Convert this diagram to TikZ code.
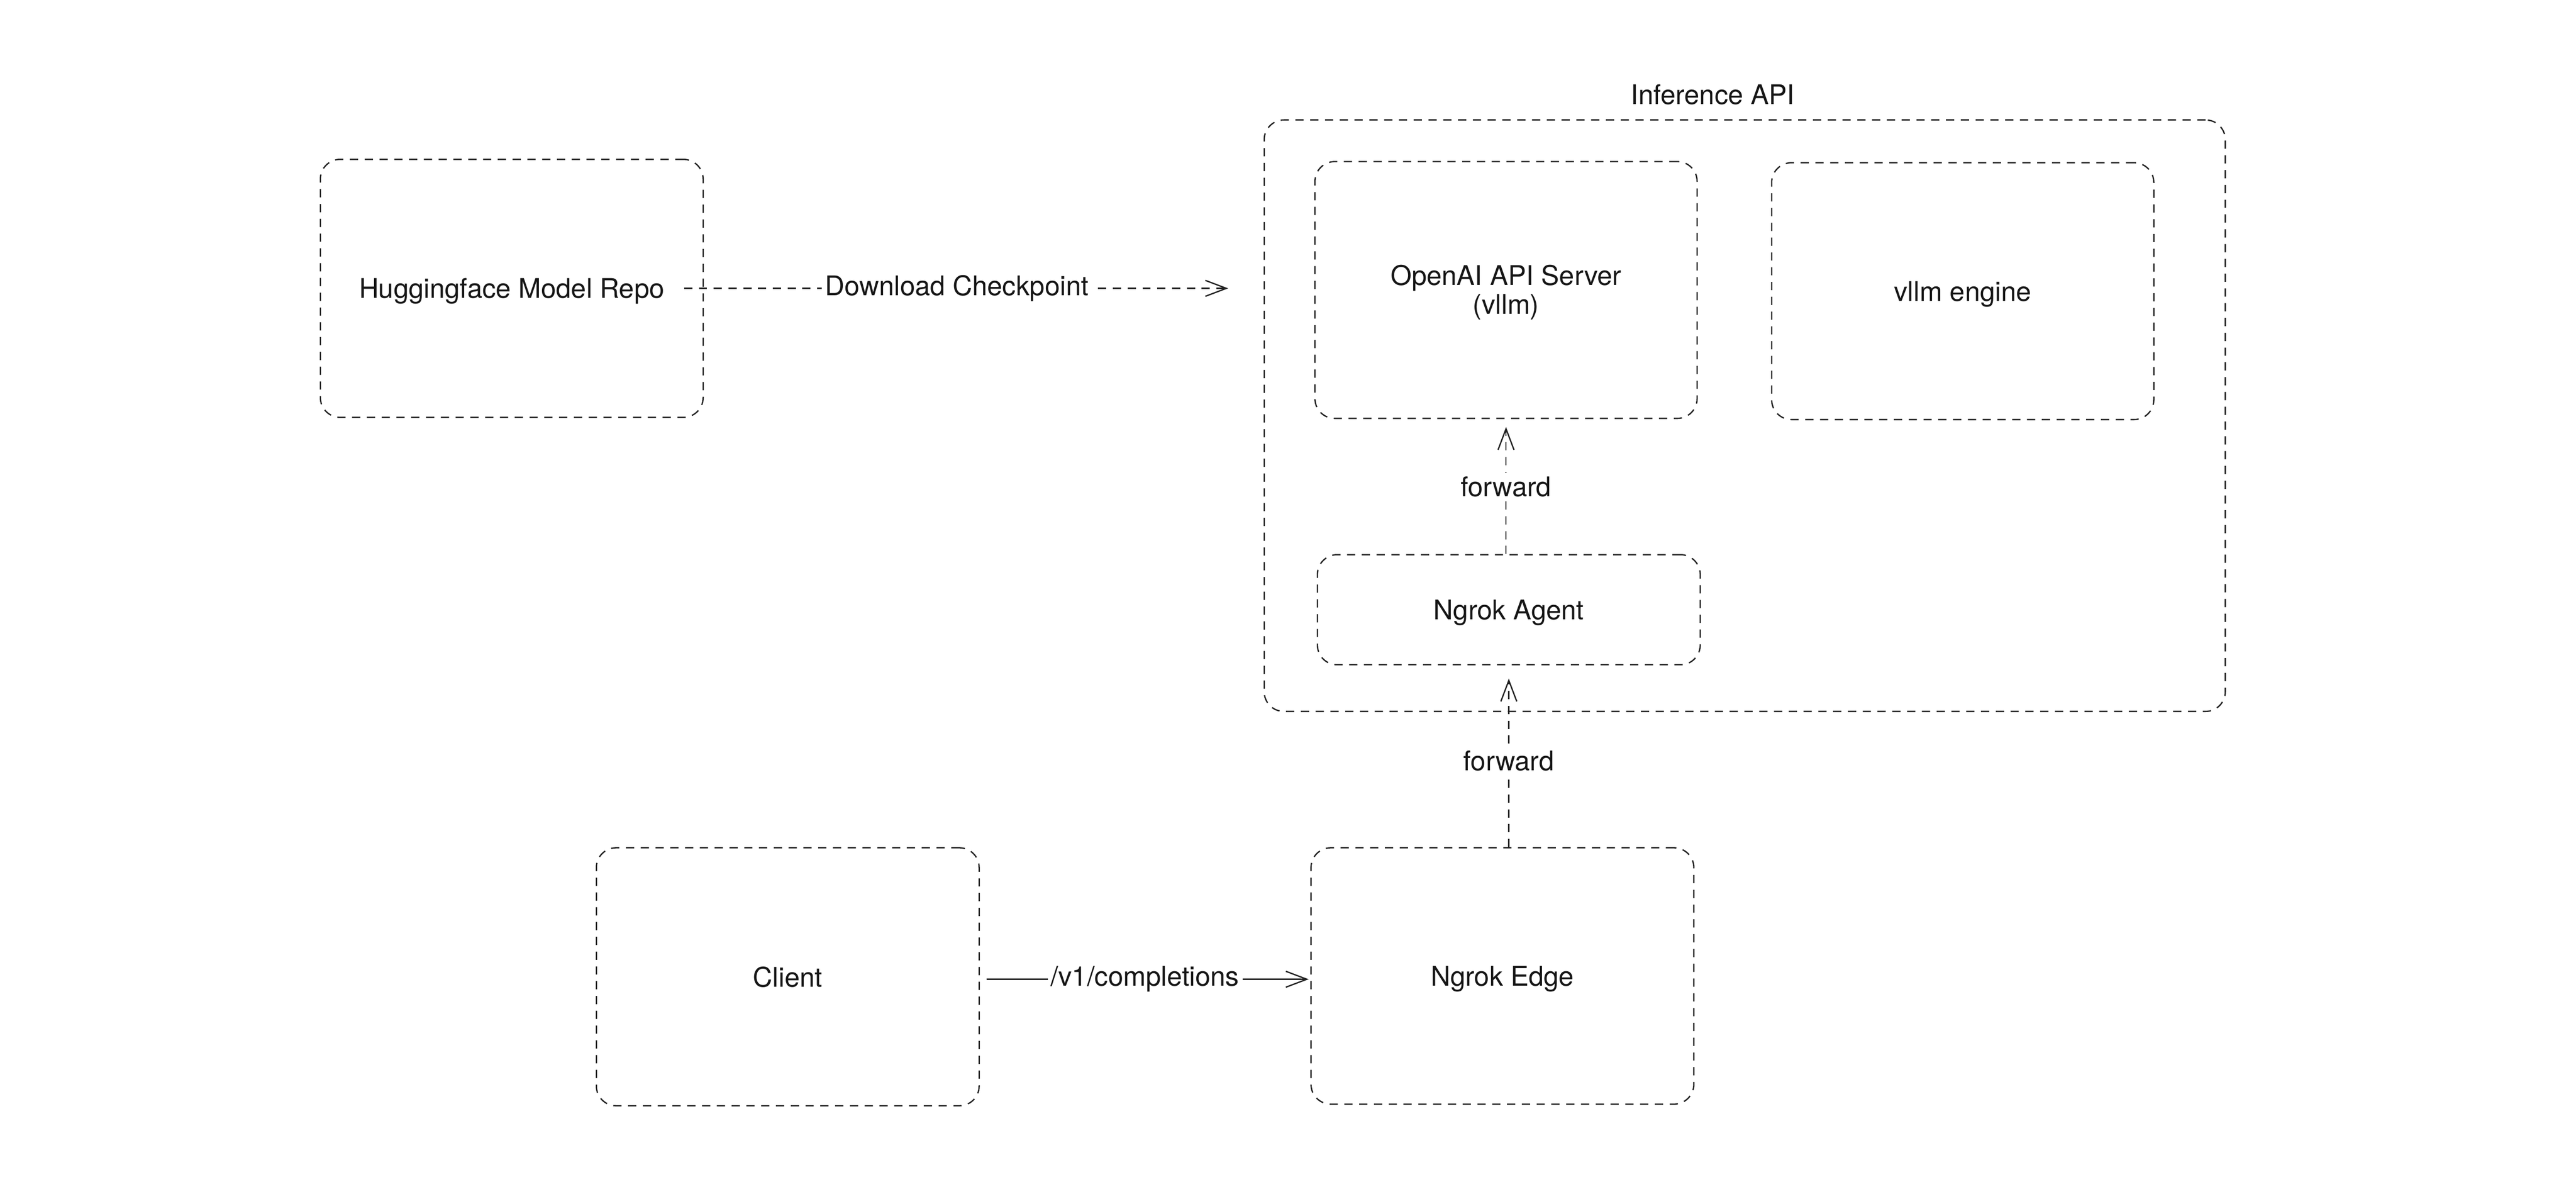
\documentclass[tikz,border=0pt]{standalone}
\usepackage{fontspec}
\setmainfont{TeX Gyre Heros}
\usetikzlibrary{arrows.meta,calc}
\definecolor{ink}{HTML}{222222}
\definecolor{txt}{HTML}{161616}
\begin{document}
\begin{tikzpicture}[x=1pt,y=-1pt,
  every node/.style={font=\fontsize{16.5}{17.6}\selectfont, text=txt},
  dashbox/.style={draw=ink, line width=0.8pt, dash pattern=on 5pt off 4pt,
    rounded corners=12pt, inner sep=0pt, minimum width=233pt, minimum height=157pt,
    text depth=0pt},
  conn/.style={draw=ink, line width=0.8pt, -{Straight Barb[length=12.8pt,width=9.7pt]}},
  dashconn/.style={conn, dash pattern=on 5pt off 4pt},
  lbl/.style={fill=white, inner sep=2pt}]
\fill[white] (0,0) rectangle (1568,729.6);
\useasboundingbox (0,0) rectangle (1568,729.6);

% container
\node[dashbox, minimum width=585pt, minimum height=360pt] (api) at (1062,253) {};
\node (apititle) at (1042.5,57.5) {Inference API};

% nodes
\node[dashbox] (hf) at (311.5,175.5) {Huggingface Model Repo};
\node[dashbox, minimum width=232.6pt, minimum height=156.3pt] (oai) at (916.7,176.5) {};
\node[align=center] (oaitext) at ($(oai.center)+(0,1.5)$) {OpenAI API Server\\(vllm)};
\node[dashbox, minimum width=232.6pt, minimum height=156.3pt] (vllm) at (1194.7,177.2) {vllm engine};
\node[dashbox, minimum height=67pt] (agent) at (918.4,371.1) {Ngrok Agent};
\node[dashbox] (client) at (479.5,594.5) {Client};
\node[dashbox, minimum height=156pt] (edge) at (914.5,594) {Ngrok Edge};

% connectors
\draw[dashconn, shorten <=-12pt, shorten >=21.5pt] (hf.east) -- (hf.east -| api.west)
  node[lbl, pos=0.452] (l1) {Download Checkpoint};
\draw[dashconn, shorten >=4.8pt] (oai.south |- agent.north) -- (oai.south)
  node[lbl, midway] (l2) {forward};
\draw[dashconn, shorten >=8pt] (agent.south |- edge.north) -- (agent.south)
  node[lbl, pos=0.475] (l3) {forward};
\draw[conn, shorten <=4pt, shorten >=1pt] ($(client.east)+(0,1.5)$) -- ($(edge.west)+(0,2)$)
  node[lbl, midway] (l4) {/v1/completions};
\end{tikzpicture}
\end{document}
